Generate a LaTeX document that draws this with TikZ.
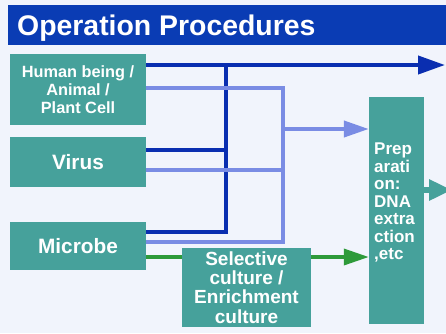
\documentclass[tikz,border=0pt]{standalone}
\usepackage{fontspec}
\setmainfont{Liberation Sans}
\usetikzlibrary{arrows.meta}
\definecolor{bg}{HTML}{F1F4FC}
\definecolor{titleblue}{HTML}{0A3CB4}
\definecolor{boxteal}{HTML}{46A19B}
\definecolor{darkline}{HTML}{0A2EB0}
\definecolor{lightline}{HTML}{7A8CE4}
\definecolor{greenline}{HTML}{2E9A3A}
\begin{document}
\begin{tikzpicture}[x=1pt,y=-1pt,
  box/.style={fill=boxteal, draw=none, text=white, align=center, inner sep=0pt},
  dk/.style={draw=darkline, line width=4pt, line join=miter},
  lt/.style={draw=lightline, line width=4pt, line join=miter},
  gr/.style={draw=greenline, line width=3.5pt},
  bigtip/.style={-{Triangle[length=27pt,width=18pt]}},
  midtip/.style={-{Triangle[length=25pt,width=16pt]}}
]
\fill[bg] (0,0) rectangle (446,333);
\useasboundingbox (0,0) rectangle (446,333);
\clip (0,0) rectangle (446,333);
% title bar
\node[fill=titleblue, draw=none, minimum width=438pt, minimum height=40pt, inner sep=0pt, anchor=north west] (bar) at (8,5) {};
\node[anchor=base west, text=white, inner sep=0pt, font=\fontsize{28.4}{30}\selectfont\bfseries] (title) at (17,35) {Operation Procedures};
% boxes
\node[box, minimum width=136pt, minimum height=71pt, font=\fontsize{16.3}{18}\selectfont\bfseries] (human) at (78,89.5) {Human being /\\Animal /\\Plant Cell};
\node[box, minimum width=136pt, minimum height=50pt, font=\fontsize{20.8}{22}\selectfont\bfseries] (virus) at (78,162) {Virus};
\node[box, minimum width=136pt, minimum height=48pt, font=\fontsize{20.8}{22}\selectfont\bfseries] (microbe) at (78,246) {Microbe};
\node[box, minimum width=129pt, minimum height=79pt, font=\fontsize{19}{19.3}\selectfont\bfseries] (selective) at (246.5,287.5) {Selective\\culture /\\Enrichment\\culture};
\node[box, minimum width=55pt, minimum height=227pt] (prep) at (396.5,210.5) {};
\node[anchor=north west, inner sep=0pt, align=left, text=white, font=\fontsize{17}{17.5}\selectfont\bfseries] (preptext) at (374,143) {Prep\\arati\\on:\\DNA\\extra\\ction\\,etc};
% junction coordinates
\coordinate (dj1) at (226,65);
\coordinate (dj2) at (226,150);
\coordinate (dj3) at (226,232);
\coordinate (outtop) at (445,65);
\coordinate (lj1) at (283,88);
\coordinate (lj2) at (283,170);
\coordinate (lj3) at (283,242);
\coordinate (lja) at (283,129);
\coordinate (outright) at (452,190);
% dark blue connectors
\draw[dk, bigtip] (human.east |- dj1) -- (outtop);
\draw[dk] (microbe.east |- dj3) -- (dj3) -- (dj1);
\draw[dk] (virus.east |- dj2) -- (dj2);
% light blue connectors
\draw[lt] (human.east |- lj1) -- (lj1) -- (lj3) -- (microbe.east |- lj3);
\draw[lt] (virus.east |- lj2) -- (lj2);
\draw[lt, midtip] (lja) -- (prep.west |- lja);
% green connectors
\coordinate (gy) at (0,257);
\draw[gr] (microbe.east |- gy) -- (selective.west |- gy);
\draw[gr, midtip] (selective.east |- gy) -- (prep.west |- gy);
% teal output arrow
\draw[draw=boxteal, line width=6pt, -{Triangle[length=23pt,width=20pt]}] (prep.east |- outright) -- (outright);
\end{tikzpicture}
\end{document}
